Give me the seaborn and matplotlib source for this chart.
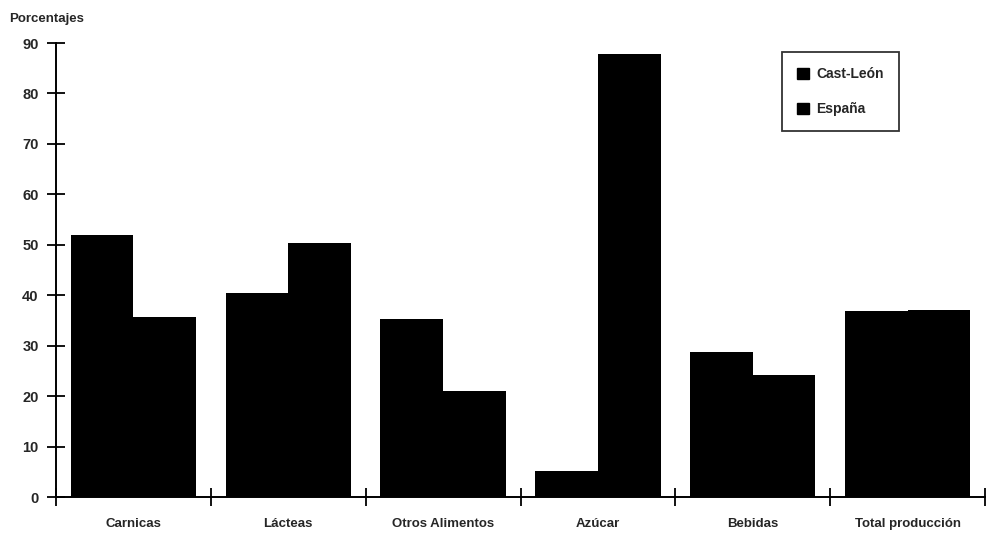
import matplotlib
matplotlib.use("Agg")
import matplotlib.pyplot as plt
from matplotlib.patches import Patch
from matplotlib.ticker import FixedLocator
import pandas as pd
import seaborn as sns

categorias = ["Carnicas", "Lácteas", "Otros Alimentos", "Azúcar", "Bebidas", "Total producción"]
cast_leon = [52.0, 40.4, 35.3, 5.2, 28.8, 36.9]
espana = [35.7, 50.3, 21.0, 87.9, 24.2, 37.1]
series = ["Cast-León", "España"]
yticks = list(range(0, 91, 10))

df = pd.DataFrame({
    "categoria": categorias * 2,
    "valor": cast_leon + espana,
    "serie": [series[0]] * len(categorias) + [series[1]] * len(categorias),
})

sns.set_style("white")
plt.rcParams["font.family"] = ["Liberation Sans", "DejaVu Sans"]
plt.rcParams["font.weight"] = "bold"

fig = plt.figure(figsize=(9.89, 5.39), dpi=100)
ax = fig.add_axes([0.0566, 0.0779, 0.9394, 0.8423])

sns.barplot(data=df, x="categoria", y="valor", hue="serie", order=categorias,
            hue_order=series, palette=["black", "black"], width=0.81,
            saturation=1, edgecolor="none", linewidth=0, legend=False, ax=ax)

ax.set_xlim(-0.5, len(categorias) - 0.5)
ax.set_ylim(0, 90)
ax.set_yticks(yticks)
ax.set_yticklabels([str(v) for v in yticks], fontsize=10.5, fontweight="bold")
ax.set_xticks(range(len(categorias)))
ax.set_xticklabels(categorias, fontsize=9.5, fontweight="bold")
ax.xaxis.set_minor_locator(FixedLocator([i - 0.5 for i in range(len(categorias) + 1)]))
ax.tick_params(axis="x", which="major", bottom=True, length=0, pad=15)
ax.tick_params(axis="x", which="minor", bottom=True, length=13, width=1.3,
               direction="inout", color="black")
ax.tick_params(axis="y", which="major", left=True, length=13, width=1.3,
               direction="inout", color="black", pad=6)
ax.set_xlabel("")
ax.set_ylabel("")

for side in ["top", "right"]:
    ax.spines[side].set_visible(False)
for side in ["left", "bottom"]:
    ax.spines[side].set_color("black")
    ax.spines[side].set_linewidth(1.4)

fig.text(0.009, 0.975, "Porcentajes", fontsize=9.5, fontweight="bold", va="top", ha="left")

handles = [Patch(facecolor="black", edgecolor="black", label=s) for s in series]
leg = ax.legend(handles=handles, loc="upper left", bbox_to_anchor=(0.781, 0.98),
                frameon=True, fancybox=False, fontsize=10, handlelength=0.9,
                handleheight=0.9, handletextpad=0.5, labelspacing=1.5,
                borderpad=1.1, borderaxespad=0)
leg.get_frame().set_edgecolor("black")
leg.get_frame().set_linewidth(1.3)
for t in leg.get_texts():
    t.set_fontweight("bold")

fig.savefig("out.png", dpi=100, facecolor="white")
